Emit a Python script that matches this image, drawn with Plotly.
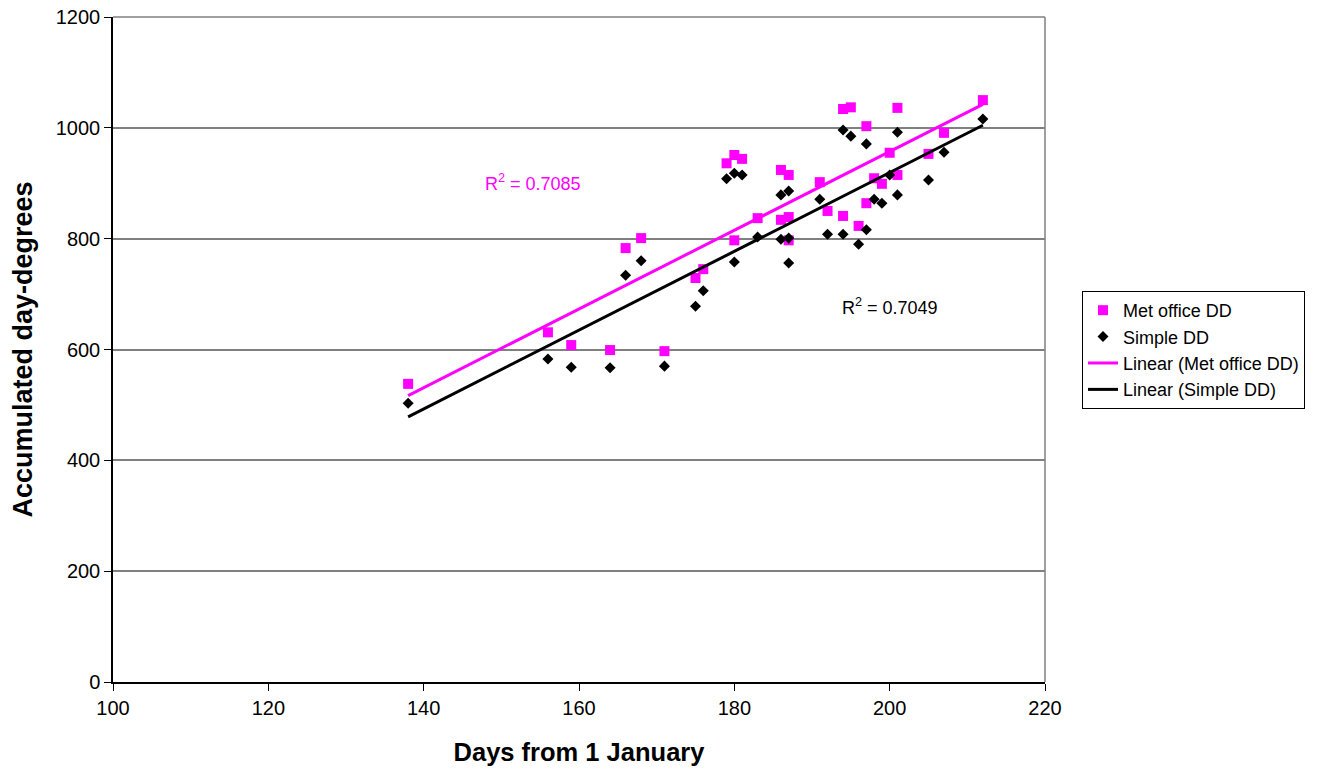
import numpy as np
import plotly.graph_objects as go

# Day of year for each sample (shared by both series)
days = [138, 156, 159, 164, 166, 168, 171, 175, 176, 179, 180, 181, 180, 183,
        186, 187, 186, 187, 187, 191, 192, 194, 194, 195, 196, 197, 197, 198,
        199, 200, 201, 201, 205, 207, 212]

met_office_dd = [538, 631, 608, 599, 783, 801, 597, 729, 745, 936, 951, 944, 797, 837,
                 924, 915, 834, 839, 797, 902, 850, 841, 1034, 1037, 823, 1003, 864, 909,
                 899, 955, 915, 1036, 953, 991, 1050]

simple_dd = [503, 583, 568, 567, 734, 760, 570, 678, 706, 908, 918, 915, 758, 803,
             879, 886, 799, 801, 756, 871, 808, 808, 996, 985, 790, 971, 816, 871,
             864, 915, 879, 992, 906, 956, 1016]

r2_labels = ["R<sup>2</sup> = 0.7085", "R<sup>2</sup> = 0.7049"]

x_ticks = [100, 120, 140, 160, 180, 200, 220]
y_ticks = [0, 200, 400, 600, 800, 1000, 1200]

PINK = "#FF00FF"
GRID = "#808080"
FONT = "Arial, Liberation Sans, sans-serif"


def trend(xs, ys):
    """Least squares line across the range of xs."""
    slope, intercept = np.polyfit(xs, ys, 1)
    xr = np.array([min(xs), max(xs)])
    return xr, slope * xr + intercept


fig = go.Figure()

fig.add_trace(go.Scatter(
    x=days, y=met_office_dd, mode="markers", name="Met office DD",
    marker=dict(symbol="square", size=10, color=PINK),
))
fig.add_trace(go.Scatter(
    x=days, y=simple_dd, mode="markers", name="Simple DD",
    marker=dict(symbol="diamond", size=8.5, color="black"),
))

tx, ty = trend(days, met_office_dd)
fig.add_trace(go.Scatter(
    x=tx, y=ty, mode="lines", name="Linear (Met office DD)",
    line=dict(color=PINK, width=3),
))
tx, ty = trend(days, simple_dd)
fig.add_trace(go.Scatter(
    x=tx, y=ty, mode="lines", name="Linear (Simple DD)",
    line=dict(color="black", width=3),
))

fig.add_annotation(x=154.1, y=902, text=r2_labels[0], showarrow=False,
                   font=dict(color=PINK, size=18, family=FONT))
fig.add_annotation(x=200.0, y=678, text=r2_labels[1], showarrow=False,
                   font=dict(color="black", size=18, family=FONT))

# grey top and right-hand border of the plot area
fig.add_shape(type="line", xref="paper", yref="paper", x0=1, x1=1, y0=0, y1=1,
              line=dict(color=GRID, width=1.5))
fig.add_shape(type="line", xref="paper", yref="paper", x0=0, x1=1, y0=1, y1=1,
              line=dict(color=GRID, width=1.5))

# page body adds 8px, so the figure is 8px smaller than the window
fig.update_layout(
    width=1313,
    height=763,
    margin=dict(l=105, r=276, t=9, b=89),
    paper_bgcolor="white",
    plot_bgcolor="white",
    font=dict(family=FONT, color="black", size=20),
    showlegend=True,
    legend=dict(
        x=1.0397, y=0.588, xanchor="left", yanchor="top",
        bordercolor="black", borderwidth=1, bgcolor="white",
        font=dict(size=18, family=FONT),
        tracegroupgap=0,
    ),
    xaxis=dict(
        range=[100, 220], tickvals=x_ticks, showgrid=False, zeroline=False,
        showline=True, linecolor="black", linewidth=1.5,
        ticks="outside", ticklen=7, tickcolor="black",
        tickfont=dict(size=20), automargin=False, ticklabeloverflow="allow",
        title=dict(text="<b>Days from 1 January</b>", font=dict(size=25.5), standoff=25),
    ),
    yaxis=dict(
        range=[0, 1200], tickvals=y_ticks, showgrid=True, gridcolor=GRID,
        gridwidth=1.5, zeroline=False,
        showline=True, linecolor="black", linewidth=1.5,
        ticks="outside", ticklen=7, tickcolor="black",
        tickfont=dict(size=20), automargin=False, ticklabeloverflow="allow",
        title=dict(text="<b>Accumulated day-degrees</b>", font=dict(size=27), standoff=18),
    ),
)

fig.write_html("out.html")
